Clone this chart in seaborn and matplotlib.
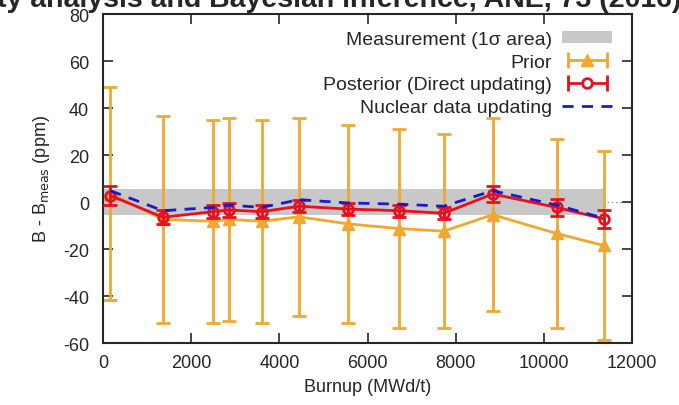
import matplotlib
matplotlib.use('Agg')
import matplotlib.pyplot as plt
from matplotlib.lines import Line2D
from matplotlib.patches import Patch
from matplotlib.legend_handler import HandlerLine2D
import seaborn as sns
import numpy as np
import pandas as pd

# burnup points (MWd/t)
burnup = [170, 1360, 2500, 2860, 3600, 4450, 5560, 6710, 7730, 8840, 10290, 11360]

# prior C/E difference and its 1-sigma
prior = [3.6, -7.4, -8.2, -7.4, -8.2, -6.3, -9.3, -11.3, -12.4, -5.4, -13.4, -18.5]
prior_err = [45.2, 44.1, 43.3, 43.2, 43.3, 42.2, 42.2, 42.3, 41.2, 41.1, 40.2, 40.1]

# posterior, direct updating
posterior = [2.7, -6.5, -4.1, -3.4, -4.1, -1.8, -3.0, -3.7, -4.8, 3.4, -2.3, -7.2]
posterior_err = [4.1, 3.0, 2.8, 2.8, 2.8, 2.6, 2.6, 2.6, 2.6, 3.3, 3.5, 3.8]

# nuclear data updating
nuclear = [4.8, -3.7, -2.3, -1.3, -2.3, 1.0, -0.4, -0.9, -1.8, 4.8, -1.3, -6.9]

# measurement 1-sigma band
meas_sigma = 5.6

df = pd.DataFrame({'burnup': burnup, 'nuclear': nuclear})

sns.set_style('ticks')
plt.rcParams['font.family'] = ['Liberation Sans', 'DejaVu Sans']
plt.rcParams['axes.unicode_minus'] = False

fig = plt.figure(figsize=(6.79, 4.06), dpi=100)
ax = fig.add_axes([0.1517, 0.1527, 0.7791, 0.8103])

orange = '#f2a72e'
red = '#e8101e'
blue = '#1a1acc'
grey = '#c8c8c8'
dash = (0, (4, 3))

ax.axhline(0, color='#999999', lw=1, ls=(0, (1, 2)), zorder=0)
ax.fill_between([0, burnup[-1]], -meas_sigma, meas_sigma, color=grey, lw=0, zorder=1)

ax.errorbar(burnup, prior, yerr=prior_err, color=orange, lw=2, marker='^', ms=8,
            capsize=5, capthick=2, elinewidth=2, zorder=2)
ax.errorbar(burnup, posterior, yerr=posterior_err, color=red, lw=2, marker='o', ms=7,
            mfc='none', mew=2, capsize=5, capthick=2, elinewidth=2, zorder=3)
sns.lineplot(data=df, x='burnup', y='nuclear', ax=ax, color=blue, lw=2, zorder=4)
ax.lines[-1].set_linestyle(dash)

ax.set_xlim(0, 12000)
ax.set_ylim(-60, 80)
ax.set_xticks(np.arange(0, 12001, 2000))
ax.set_yticks(np.arange(-60, 81, 20))
ax.tick_params(direction='in', length=7, width=1.2, top=True, right=True,
               labelsize=13, pad=8)
ax.tick_params(axis='y', pad=10)
for s in ax.spines.values():
    s.set_linewidth(1.5)
    s.set_visible(True)

ax.set_xlabel('Burnup (MWd/t)', fontsize=13, labelpad=5)
ax.set_ylabel('B - B$_{\\mathrm{meas}}$ (ppm)', fontsize=13, labelpad=8)

# gnuplot-like legend keys: horizontal error bars
prior_caps = Line2D([], [], color=orange, marker='|', ms=11, mew=2, lw=2)
prior_mark = Line2D([], [], color=orange, marker='^', ms=8, lw=0)
post_caps = Line2D([], [], color=red, marker='|', ms=11, mew=2, lw=2)
post_mark = Line2D([], [], color=red, marker='o', ms=7, mfc='white', mew=2, lw=0)
handles = [Patch(color=grey, lw=0),
           (prior_caps, prior_mark),
           (post_caps, post_mark),
           Line2D([], [], color=blue, lw=2, ls=dash)]
labels = ['Measurement (1σ area)', 'Prior', 'Posterior (Direct updating)',
          'Nuclear data updating']
ax.legend(handles, labels, loc='upper right', frameon=False, markerfirst=False,
          fontsize=14, handlelength=2.6, handleheight=0.6, labelspacing=0.3,
          handletextpad=0.5, borderaxespad=0.2, bbox_to_anchor=(0.985, 0.985),
          handler_map={prior_caps: HandlerLine2D(numpoints=2),
                       post_caps: HandlerLine2D(numpoints=2)})

fig.text(-0.004, 0.982, 'ty analysis and Bayesian inference, ANE, 73 (2016)',
         ha='left', va='baseline', fontsize=20.5, fontweight='bold')

fig.savefig('out.png', dpi=100)
